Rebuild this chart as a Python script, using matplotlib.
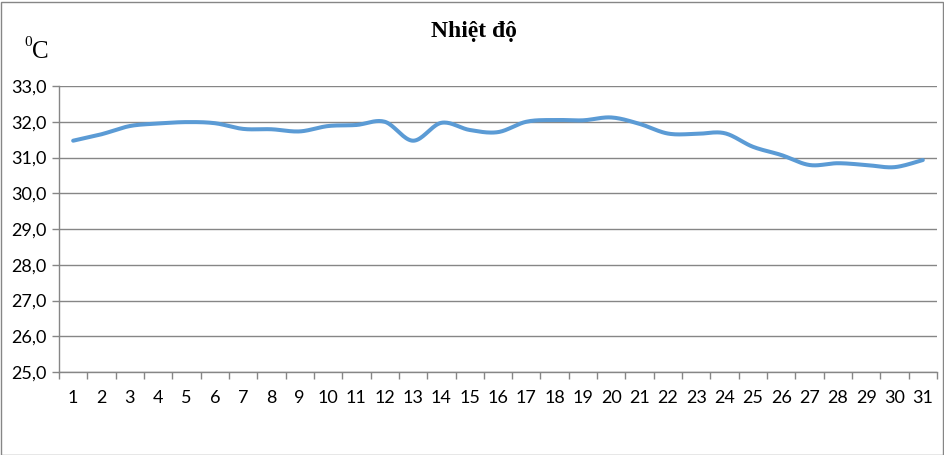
import numpy as np
import matplotlib.pyplot as plt
from matplotlib.patches import Rectangle
from matplotlib.ticker import FixedLocator

days = list(range(1, 32))
temps = [31.47, 31.65, 31.88, 31.95, 31.99, 31.96, 31.80, 31.79, 31.73, 31.88,
         31.91, 32.00, 31.47, 31.97, 31.77, 31.71, 32.00, 32.05, 32.04, 32.12,
         31.94, 31.67, 31.66, 31.68, 31.30, 31.07, 30.79, 30.84, 30.79, 30.73,
         30.93]
y_ticks = [25, 26, 27, 28, 29, 30, 31, 32, 33]
title = "Nhiệt độ"


def smooth(x, y, steps=20):
    # Excel-style smoothed line: cubic Bezier through points (Catmull-Rom)
    x = np.asarray(x, float)
    y = np.asarray(y, float)
    px = np.concatenate([[x[0]], x, [x[-1]]])
    py = np.concatenate([[y[0]], y, [y[-1]]])
    xs, ys = [], []
    t = np.linspace(0, 1, steps, endpoint=False)
    for i in range(1, len(px) - 2):
        p0 = np.array([px[i], py[i]])
        p3 = np.array([px[i + 1], py[i + 1]])
        p1 = p0 + (np.array([px[i + 1], py[i + 1]]) - np.array([px[i - 1], py[i - 1]])) / 6
        p2 = p3 - (np.array([px[i + 2], py[i + 2]]) - np.array([px[i], py[i]])) / 6
        for tt in t:
            b = ((1 - tt) ** 3) * p0 + 3 * ((1 - tt) ** 2) * tt * p1 + 3 * (1 - tt) * tt ** 2 * p2 + tt ** 3 * p3
            xs.append(b[0])
            ys.append(b[1])
    xs.append(x[-1])
    ys.append(y[-1])
    return xs, ys


fig = plt.figure(figsize=(9.45, 4.55), dpi=100)
ax = fig.add_axes([59 / 945, 1 - 372 / 455, 878 / 945, 286 / 455])

sx, sy = smooth(days, temps)
ax.plot(sx, sy, color="#5B9BD5", linewidth=2.9, solid_capstyle="round", zorder=3)

ax.set_xlim(0.5, 31.5)
ax.set_ylim(25, 33)
ax.set_yticks(y_ticks)
ax.set_yticklabels([f"{v:.1f}".replace(".", ",") for v in y_ticks],
                   fontsize=13, family="Lato")
ax.set_xticks(days)
ax.set_xticklabels([str(d) for d in days], fontsize=13, family="Lato")
ax.xaxis.set_minor_locator(FixedLocator(np.arange(0.5, 32, 1)))

ax.tick_params(axis="x", which="major", length=0, pad=13)
ax.tick_params(axis="x", which="minor", length=5, color="#868686", width=1)
ax.tick_params(axis="y", length=5, color="#868686", width=1, pad=4)

ax.grid(axis="y", color="#868686", linewidth=1)
ax.set_axisbelow(True)
for side in ["top", "right"]:
    ax.spines[side].set_visible(False)
for side in ["left", "bottom"]:
    ax.spines[side].set_color("#868686")
    ax.spines[side].set_linewidth(1)

fig.text(474 / 945, 1 - 31 / 455, title, ha="center", va="center",
         fontsize=17, fontweight="bold", family="Liberation Serif")
fig.text(24 / 945, 1 - 43 / 455, "0", ha="left", va="center",
         fontsize=11, family="Liberation Serif")
fig.text(32 / 945, 1 - 52 / 455, "C", ha="left", va="center",
         fontsize=18, family="Liberation Serif")

fig.patches.append(Rectangle((0.5 / 945, 0.5 / 455), 943 / 945, 453 / 455,
                             transform=fig.transFigure, fill=False,
                             edgecolor="#868686", linewidth=1))

fig.savefig("out.png", dpi=100)
